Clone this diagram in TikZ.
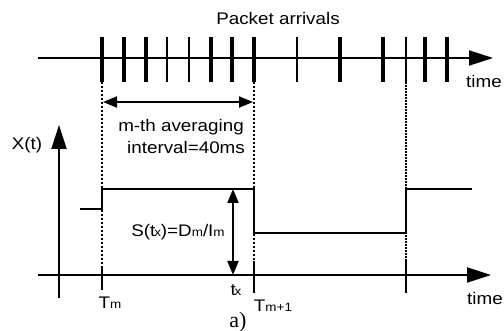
\documentclass[tikz,border=0pt]{standalone}
\usepackage{fontspec}
\setmainfont{Liberation Sans}
\newfontfamily\seriffont{Liberation Serif}
\usetikzlibrary{arrows.meta}
\tikzset{
  lbl/.style={inner sep=0pt, font=\fontsize{16.8}{18}\selectfont, xscale=1.12},
  axis/.style={line width=2pt, -{Triangle[length=24pt,width=15pt]}},
  tickthick/.style={line width=4pt},
  tickthin/.style={line width=2.6pt},
  btick/.style={line width=2pt},
  dots/.style={line width=1.6pt, dash pattern=on 2pt off 2pt},
  sig/.style={line width=2pt},
  dim/.style={line width=2pt, {Triangle[length=14pt,width=11pt]}-{Triangle[length=14pt,width=11pt]}},
}
\newcommand{\sm}[1]{{\fontsize{12}{13}\selectfont #1}}
\begin{document}
\begin{tikzpicture}[x=1pt,y=-1pt]
\useasboundingbox (0,0) rectangle (504,331);
% top timeline
\coordinate (ts) at (38,58);
\coordinate (te) at (493,58);
\draw[axis] (ts) -- (te);
\foreach \x in {102,124,146,211,232,254,340,383,425,447}
  \draw[tickthick] (\x,37) -- (\x,82);
\foreach \x in {167,189,297,406}
  \draw[tickthin] (\x,37) -- (\x,82);
\node[lbl] (pa) at (278,18) {Packet arrivals};
\node[lbl] (time1) at (484,81) {time};
% dotted verticals
\coordinate (d1t) at (102,82); \coordinate (d1b) at (102,270);
\coordinate (d2t) at (254,82); \coordinate (d2b) at (254,262);
\coordinate (d3t) at (406,82); \coordinate (d3b) at (406,262);
\draw[dots] (d1t) -- (d1b);
\draw[dots] (d2t) -- (d2b);
\draw[line width=1.8pt, dash pattern=on 2pt off 1pt] (d3t) -- (d3b);
% averaging interval arrow
\coordinate (ia) at (103,102);
\coordinate (ib) at (253,102);
\draw[dim] (ia) -- (ib);
\node[lbl] (l1) at (181,127) {m-th averaging};
\node[lbl] (l2) at (186,147) {interval=40ms};
% y axis
\coordinate (ya) at (59,298);
\coordinate (yb) at (59,125);
\draw[axis] (ya) -- (yb);
\node[lbl] (xt) at (27,145) {X(t)};
% bottom axis
\coordinate (bs) at (38,275);
\coordinate (be) at (491,275);
\draw[axis] (bs) -- (be);
\node[lbl] (time2) at (485,298) {time};
% bottom ticks
\draw[btick] (102,268) -- (102,290);
\draw[btick] (254,261) -- (254,293);
\draw[btick] (406,261) -- (406,293);
% signal
\draw[sig] (80,209) -- (102,209) -- (102,189) -- (254,189) -- (254,233) -- (406,233) -- (406,189) -- (472,189);
% S arrow
\coordinate (sa) at (233,189);
\coordinate (sb) at (233,275);
\draw[dim] (sa) -- (sb);
\node[lbl] (S) at (178,232) {S(t\kern-1pt\sm{x})=D\sm{m}/I\sm{m}};
\node[lbl] (tx) at (236,290) {t\kern-1pt\sm{x}};
\node[lbl] (Tm) at (110,303) {T\sm{m}};
\node[lbl] (Tm1) at (273,306) {T\sm{m+1}};
\node[inner sep=0pt, font=\seriffont\fontsize{22}{24}\selectfont] (a) at (238,322) {a)};
\end{tikzpicture}
\end{document}
